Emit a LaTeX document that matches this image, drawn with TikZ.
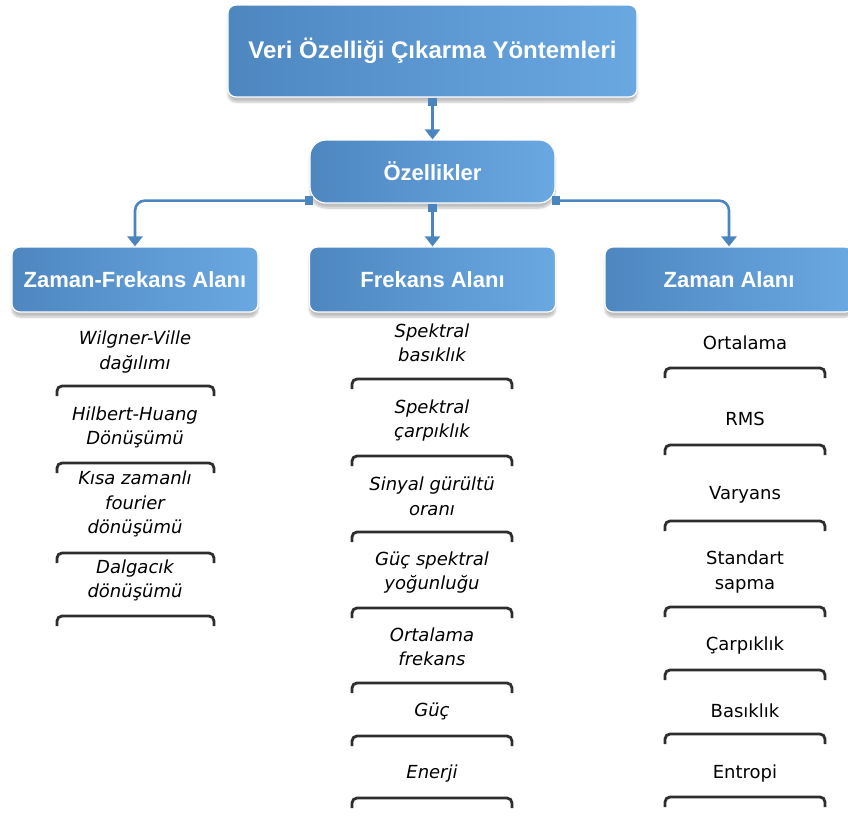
\documentclass[tikz,border=0pt]{standalone}
\usepackage{fontspec}
\setmainfont{Liberation Sans}
\newfontfamily\itemfont{DejaVu Sans}
\usetikzlibrary{arrows.meta,shadows.blur}

\definecolor{boxleft}{HTML}{4E87C0}
\definecolor{boxright}{HTML}{6AA8E2}
\definecolor{linkblue}{HTML}{4A85BF}
\definecolor{barcolor}{HTML}{2E2E2E}

\tikzset{
  bluebox/.style={rectangle, rounded corners=8pt, left color=boxleft, right color=boxright,
    draw=white, line width=1.2pt, text=white, font=\fontsize{22}{26}\selectfont\bfseries,
    blur shadow={shadow xshift=0pt, shadow yshift=-5pt, shadow blur steps=6, shadow opacity=25}},
  link/.style={draw=linkblue, line width=2.6pt, rounded corners=10pt,
    {Square[length=8pt,width=9pt]}-{Triangle[width=15pt,length=10pt]}},
  feature/.style={align=center, font=\itemfont\fontsize{18}{24.5}\selectfont\itshape},
  measure/.style={align=center, font=\itemfont\fontsize{18}{24.5}\selectfont},
  bar/.style={draw=barcolor, line width=2.8pt, rounded corners=5pt},
}

\begin{document}
\begin{tikzpicture}[x=1pt, y=-1pt]
    \useasboundingbox (0,0) rectangle (848,817);

    % Boxes
    \node(title) [bluebox, minimum width=409pt, minimum height=92pt, font=\fontsize{24}{28}\selectfont\bfseries] at (432.5,51) {Veri Özelliği Çıkarma Yöntemleri};
    \node(feat) [bluebox, rounded corners=16pt, minimum width=245pt, minimum height=63pt] at (432.5,171.5) {Özellikler};
    \node(tf) [bluebox, minimum width=246pt, minimum height=65pt] at (135,279.5) {Zaman-Frekans Alanı};
    \node(fq) [bluebox, minimum width=246pt, minimum height=65pt] at (432.5,279.5) {Frekans Alanı};
    \node(tm) [bluebox, minimum width=248pt, minimum height=65pt] at (729,279.5) {Zaman Alanı};

    % Links
    \draw[link] (title.south) -- (feat.north);
    \draw[link] ([xshift=4pt,yshift=3pt]feat.south west) -| (tf.north);
    \draw[link] (feat.south) -- (fq.north);
    \draw[link] ([xshift=-4pt,yshift=3pt]feat.south east) -| (tm.north);

    % Zaman-Frekans Alanı
    \node(tf1) [feature] at (135,352) {Wilgner-Ville\\dağılımı};
    \node(tf2) [feature] at (135,427.5) {Hilbert-Huang\\Dönüşümü};
    \node(tf3) [feature] at (135,504) {Kısa zamanlı\\fourier\\dönüşümü};
    \node(tf4) [feature] at (135,580.5) {Dalgacık\\dönüşümü};
    \foreach \y in {386,463,553,616}
        \draw[bar] (57,\y+10) -- (57,\y) -- (214,\y) -- (214,\y+10);

    % Frekans Alanı
    \node(fq1) [feature] at (432,343) {Spektral\\basıklık};
    \node(fq2) [feature] at (432,420.5) {Spektral\\çarpıklık};
    \node(fq3) [feature] at (432,496.5) {Sinyal gürültü\\oranı};
    \node(fq4) [feature] at (432,572.5) {Güç spektral\\yoğunluğu};
    \node(fq5) [feature] at (432,647) {Ortalama\\frekans};
    \node(fq6) [feature] at (432,711) {Güç};
    \node(fq7) [feature] at (432,774) {Enerji};
    \foreach \y in {379,456,532,608,683,736,798}
        \draw[bar] (352,\y+10) -- (352,\y) -- (512,\y) -- (512,\y+10);

    % Zaman Alanı
    \node(tm1) [measure] at (745,343) {Ortalama};
    \node(tm2) [measure] at (745,419) {RMS};
    \node(tm3) [measure] at (745,495) {Varyans};
    \node(tm4) [measure] at (745,572) {Standart\\sapma};
    \node(tm5) [measure] at (745,646) {Çarpıklık};
    \node(tm6) [measure] at (745,711) {Basıklık};
    \node(tm7) [measure] at (745,774) {Entropi};
    \foreach \y in {368,445,521,607,670,734,797}
        \draw[bar] (665,\y+10) -- (665,\y) -- (825,\y) -- (825,\y+10);

\end{tikzpicture}
\end{document}
